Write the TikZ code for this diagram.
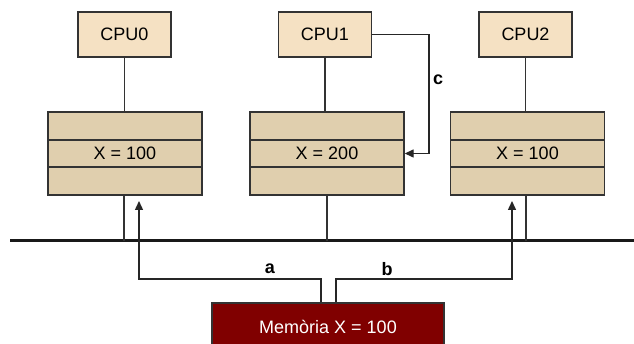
\documentclass[tikz,border=0pt]{standalone}
\usepackage{fontspec}
\setmainfont{Liberation Sans}
\usetikzlibrary{arrows.meta,calc}
\definecolor{cpufill}{HTML}{F5E1C3}
\definecolor{cachefill}{HTML}{E0CFAE}
\definecolor{memfill}{HTML}{800000}
\definecolor{edge}{HTML}{333333}
\tikzset{
  txt/.style={font=\fontsize{18}{21}\selectfont},
  cpubox/.style={txt, draw=edge, line width=1.4pt, fill=cpufill, minimum width=93pt, minimum height=45pt, inner sep=0pt},
  rowbox/.style={txt, draw=edge, line width=1.4pt, fill=cachefill, minimum width=154pt, inner sep=0pt},
  wire/.style={draw=edge, line width=1.4pt},
  flow/.style={draw=black!85, line width=1.4pt, -{Triangle[length=9pt,width=8pt]}},
  tag/.style={font=\bfseries\fontsize{18}{21}\selectfont, inner sep=0pt}
}
\begin{document}
\begin{tikzpicture}[x=1pt, y=-1pt]
\useasboundingbox (0,0) rectangle (634,344);
\fill[white] (0,0) rectangle (634,344);

% processors
\node[cpubox] (p0) at (124.5,34.5) {CPU0};
\node[cpubox] (p1) at (325,34.5) {CPU1};
\node[cpubox] (p2) at (525.5,34.5) {CPU2};

% caches: three rows each
\foreach \i/\x/\v in {0/125/100, 1/327/200, 2/527.5/100} {
  \node[rowbox, minimum height=28pt] (c\i t) at (\x,126) {};
  \node[rowbox, minimum height=27pt] (c\i m) at (\x,153.5) {X = \v};
  \node[rowbox, minimum height=28pt] (c\i b) at (\x,181) {};
}

% processor to cache links
\draw[wire] (p0.south) -- (p0.south |- c0t.north);
\draw[wire] (p1.south) -- (p1.south |- c1t.north);
\draw[wire] (p2.south) -- (p2.south |- c2t.north);

% bus
\coordinate (busL) at (10,241);
\coordinate (busR) at (634,241);
\draw[draw=black!90, line width=3pt] (busL) -- (busR);

% cache to bus links
\draw[wire] (124,195) -- (124,241);
\draw[wire] (c1b.south) -- (c1b.south |- busL);
\draw[wire] (526,195) -- (526,241);

% memory
\node[txt, draw=edge, line width=1.4pt, fill=memfill, text=white, minimum width=232pt, minimum height=48pt, inner sep=0pt] (mem) at (328,327) {Memòria X = 100};

% transfers a and b
\coordinate (ta) at (139,201);
\coordinate (tb) at (512,201);
\draw[flow] (mem.north -| 321,0) |- (139,279) -- (ta);
\draw[flow] (mem.north -| 336,0) |- (512,279) -- (tb);
\node[tag] (la) at (270,269) {a};
\node[tag] (lb) at (387,269) {b};

% write-back c
\draw[flow] (p1.east) -| (429,153.5) -- (c1m.east);
\node[tag] (lc) at (438,80) {c};
\end{tikzpicture}
\end{document}
